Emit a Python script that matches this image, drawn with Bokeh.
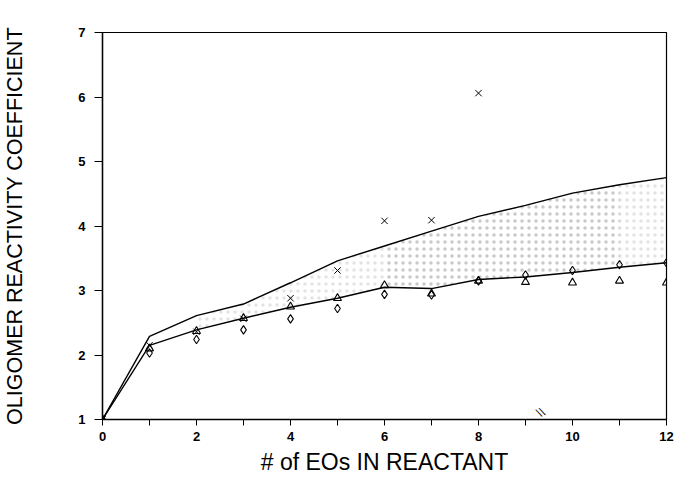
from bokeh.plotting import figure
from bokeh.models import FixedTicker, Range1d
from bokeh.core.properties import value
from bokeh.embed import file_html
from bokeh.resources import INLINE

# ---- data ----
eo = [0, 1, 2, 3, 4, 5, 6, 7, 8, 9, 10, 11, 12]
upper_curve = [1.0, 2.29, 2.61, 2.79, 3.12, 3.46, 3.69, 3.92, 4.15, 4.32, 4.51, 4.64, 4.75]
lower_curve = [1.0, 2.15, 2.39, 2.57, 2.74, 2.88, 3.05, 3.03, 3.17, 3.21, 3.28, 3.36, 3.43]

x_eo = [0, 1, 2, 3, 4, 5, 6, 7, 8]
x_vals = [1.0, 2.15, 2.36, 2.56, 2.88, 3.31, 4.08, 4.09, 6.06]

dia_eo = [0, 1, 2, 3, 4, 5, 6, 7, 8, 9, 10, 11, 12]
dia_vals = [1.0, 2.03, 2.24, 2.39, 2.56, 2.72, 2.94, 2.93, 3.15, 3.24, 3.31, 3.40, 3.43]

tri_eo = [0, 1, 2, 3, 4, 5, 6, 7, 8, 9, 10, 11, 12]
tri_vals = [1.0, 2.10, 2.37, 2.57, 2.75, 2.88, 3.08, 2.95, 3.15, 3.13, 3.12, 3.15, 3.12]

shade_eo = [2, 3, 4, 5, 6, 7, 8, 9, 10, 11, 12]
dense_eo = [6, 7, 8, 9, 10, 11]

x_ticks = [0, 1, 2, 3, 4, 5, 6, 7, 8, 9, 10, 11, 12]
x_tick_labels = {0: "0", 1: "", 2: "2", 3: "", 4: "4", 5: "", 6: "6", 7: "",
                 8: "8", 9: "", 10: "10", 11: "", 12: "12"}
y_ticks = [1, 2, 3, 4, 5, 6, 7]

break_x = [9.38]
break_y = [1.02]
break_text = ["\\\\"]

x_title = "# of EOs IN REACTANT"
y_title = "OLIGOMER REACTIVITY COEFFICIENT"

# ---- figure ----
p = figure(width=674, height=477, output_backend="svg", toolbar_location=None,
           x_range=Range1d(0, 12), y_range=Range1d(1, 7))
p.min_border_left = 102
p.min_border_right = 8
p.min_border_top = 32
p.min_border_bottom = 56
p.background_fill_color = "white"
p.border_fill_color = "white"
p.outline_line_color = "black"
p.outline_line_width = 1.2
p.xgrid.visible = False
p.ygrid.visible = False

# stippled band between curves (sparse overall, denser in the middle-right)
sh_lo = [lower_curve[eo.index(v)] for v in shade_eo]
sh_hi = [upper_curve[eo.index(v)] for v in shade_eo]
p.varea(x=shade_eo, y1=sh_lo, y2=sh_hi, fill_alpha=0,
        hatch_pattern="dot", hatch_color="#909090", hatch_scale=7,
        hatch_weight=1, hatch_alpha=0.25)
dn_lo = [lower_curve[eo.index(v)] for v in dense_eo]
dn_hi = [upper_curve[eo.index(v)] for v in dense_eo]
p.varea(x=dense_eo, y1=dn_lo, y2=dn_hi, fill_alpha=0,
        hatch_pattern="dot", hatch_color="#909090", hatch_scale=7,
        hatch_weight=1, hatch_alpha=0.3)

p.line(eo, upper_curve, line_color="black", line_width=1.4)
p.line(eo, lower_curve, line_color="black", line_width=1.4)

p.scatter(x_eo, x_vals, marker="x", size=9, line_color="black", line_width=1.0)
p.scatter(dia_eo, dia_vals, marker="diamond", size=8.5, fill_color=None,
          line_color="black", line_width=1.1)
p.scatter(tri_eo, tri_vals, marker="triangle", size=8, fill_color=None,
          line_color="black", line_width=1.1)

p.text(break_x, break_y, text=break_text, text_font=value("DejaVu Sans"),
       text_font_size="11px", text_align="center", text_baseline="bottom",
       text_color="black", angle=0.45)

# axes
xa = p.xaxis[0]
xa.ticker = FixedTicker(ticks=x_ticks)
xa.major_label_overrides = x_tick_labels
xa.minor_tick_line_color = None
xa.major_tick_in = 0
xa.major_tick_out = 6
xa.major_label_standoff = 6
xa.axis_line_width = 1.4
xa.major_label_text_font = "Liberation Sans"
xa.major_label_text_font_style = "bold"
xa.major_label_text_font_size = "13px"
xa.major_label_text_color = "black"
xa.axis_label = x_title
xa.axis_label_text_font = "Liberation Sans"
xa.axis_label_text_font_style = "normal"
xa.axis_label_text_font_size = "23px"
xa.axis_label_standoff = 5
xa.axis_label_text_color = "black"

ya = p.yaxis[0]
ya.ticker = FixedTicker(ticks=y_ticks)
ya.minor_tick_line_color = None
ya.major_tick_in = 0
ya.major_tick_out = 8
ya.major_label_standoff = 9
ya.axis_line_width = 1.4
ya.major_label_text_font = "Liberation Sans"
ya.major_label_text_font_style = "bold"
ya.major_label_text_font_size = "13px"
ya.major_label_text_color = "black"
ya.axis_label = y_title
ya.axis_label_text_font = "Liberation Sans"
ya.axis_label_text_font_style = "normal"
ya.axis_label_text_font_size = "21.5px"
ya.axis_label_standoff = 48
ya.axis_label_text_color = "black"

open("out.html", "w").write(file_html(p, INLINE))
